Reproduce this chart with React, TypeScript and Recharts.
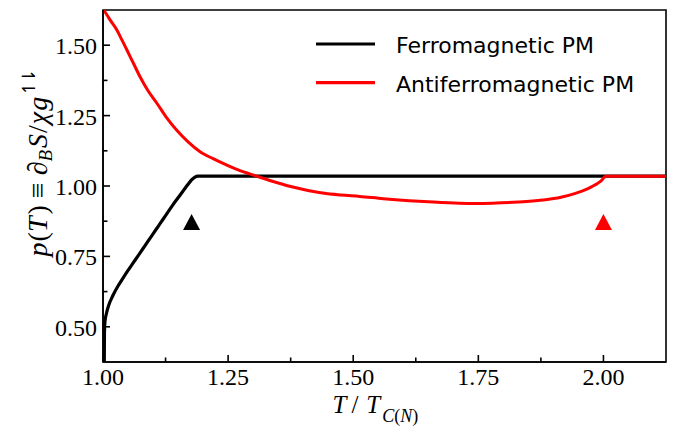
import React from 'react';
import { ComposedChart, Line, XAxis, YAxis, Scatter, ReferenceArea, Legend } from 'recharts';

// Ferromagnetic PM (black)
const ferroT = [1.0026, 1.0027, 1.0029, 1.004, 1.007, 1.0106, 1.02, 1.03, 1.04, 1.05, 1.06, 1.07, 1.08, 1.09, 1.1, 1.11, 1.12, 1.13, 1.14, 1.15, 1.16, 1.17, 1.177, 1.183, 1.19, 2.125];
const ferroP = [0.375, 0.42, 0.48, 0.52, 0.548, 0.572, 0.612, 0.645, 0.673, 0.7, 0.726, 0.752, 0.778, 0.804, 0.83, 0.856, 0.882, 0.908, 0.934, 0.958, 0.982, 1.006, 1.022, 1.031, 1.035, 1.035];

// Antiferromagnetic PM (red)
const afmT = [1.0, 1.007, 1.0145, 1.028, 1.038, 1.048, 1.061, 1.074, 1.09, 1.108, 1.127, 1.147, 1.17, 1.194, 1.22, 1.24, 1.27, 1.307, 1.34, 1.373, 1.405, 1.439, 1.475, 1.513, 1.56, 1.612, 1.66, 1.712, 1.745, 1.778, 1.83, 1.878, 1.915, 1.944, 1.962, 1.977, 1.988, 1.997, 2.001, 2.005, 2.125];
const afmP = [1.628, 1.61, 1.589, 1.553, 1.518, 1.482, 1.435, 1.388, 1.338, 1.293, 1.243, 1.199, 1.157, 1.122, 1.097, 1.08, 1.057, 1.035, 1.016, 0.999, 0.986, 0.975, 0.968, 0.963, 0.955, 0.948, 0.943, 0.939, 0.938, 0.939, 0.943, 0.95, 0.96, 0.974, 0.985, 0.998, 1.009, 1.021, 1.03, 1.035, 1.035];

// Triangle markers (transition points)
const ferroMarker = [{ T: 1.177, p: 0.872 }];
const afmMarker = [{ T: 2.0, p: 0.872 }];

const xTicks = [1.0, 1.125, 1.25, 1.375, 1.5, 1.625, 1.75, 1.875, 2.0];
const yTicks = [0.5, 0.625, 0.75, 0.875, 1.0, 1.125, 1.25, 1.375, 1.5];
const xDomain = [1.0, 2.125];
const yDomain = [0.375, 1.625];

const seriesNames = ['Ferromagnetic PM', 'Antiferromagnetic PM'];
const seriesColors = ['#000000', '#ff0000'];

const ferroData = ferroT.map((T, i) => ({ T, p: ferroP[i] }));
const afmData = afmT.map((T, i) => ({ T, p: afmP[i] }));

const isMajor = (v: number) => Math.abs(v * 4 - Math.round(v * 4)) < 1e-6;
const SERIF = '"Liberation Serif", "Times New Roman", serif';

const XTick = (props: any) => {
  const { x, y, payload } = props;
  const v = payload.value;
  const major = isMajor(v);
  return (
    <g>
      <line x1={x} x2={x} y1={y} y2={y - (major ? 7 : 4.5)} stroke="#000" strokeWidth={1.6} />
      {major && (
        <text x={x} y={y + 23} textAnchor="middle" fontFamily={SERIF} fontSize={24} fill="#000">
          {v.toFixed(2)}
        </text>
      )}
    </g>
  );
};

const YTick = (props: any) => {
  const { x, y, payload } = props;
  const v = payload.value;
  const major = isMajor(v);
  return (
    <g>
      <line x1={x} x2={x + (major ? 7 : 4.5)} y1={y} y2={y} stroke="#000" strokeWidth={1.6} />
      {major && (
        <text x={x - 6} y={y + 9} textAnchor="end" fontFamily={SERIF} fontSize={24} fill="#000">
          {v.toFixed(2)}
        </text>
      )}
    </g>
  );
};

const YLabel = (props: any) => {
  const vb = props.viewBox || { x: 3, y: 10, width: 100, height: 352 };
  const cx = vb.x + 44;
  const cy = vb.y + 154;
  return (
    <text transform={`translate(${cx},${cy}) rotate(-90)`} textAnchor="middle" fontFamily={SERIF} fontSize={28} fill="#000">
      <tspan fontStyle="italic">p</tspan>
      <tspan dx={1}>(</tspan>
      <tspan fontStyle="italic">T</tspan>
      <tspan dx={2}>)</tspan>
      <tspan dx={7}>≡</tspan>
      <tspan dx={7} fontStyle="italic">∂</tspan>
      <tspan fontSize={19} dy={5} fontStyle="italic">B</tspan>
      <tspan dy={-5} dx={2} fontStyle="italic">S</tspan>
      <tspan dx={1}>/</tspan>
      <tspan dx={1} fontStyle="italic">χ</tspan>
      <tspan dx={1} fontStyle="italic">g</tspan>
      <tspan fontSize={18} dy={-12} dx={1} letterSpacing={-3} fontFamily='"DejaVu Sans", sans-serif'>↿⇂</tspan>
    </text>
  );
};

const XLabel = (props: any) => {
  const vb = props.viewBox || { x: 103, y: 362, width: 563, height: 60 };
  const cx = vb.x + vb.width / 2;
  const by = vb.y + 51;
  return (
    <text x={cx - 52} y={by} textAnchor="start" fontFamily={SERIF} fontSize={25} fill="#000">
      <tspan fontStyle="italic">T</tspan>
      <tspan dx={5}>/</tspan>
      <tspan dx={8} fontStyle="italic">T</tspan>
      <tspan dx={2} fontSize={18} dy={9} fontStyle="italic">C</tspan>
      <tspan fontSize={18}>(</tspan>
      <tspan fontSize={18} fontStyle="italic">N</tspan>
      <tspan fontSize={18}>)</tspan>
    </text>
  );
};

const Triangle = (props: any) => {
  const { cx, cy, fill } = props;
  if (cx == null || cy == null) return null;
  return <polygon points={`${cx},${cy - 8} ${cx + 8.5},${cy + 8} ${cx - 8.5},${cy + 8}`} fill={fill} />;
};

const LegendContent = () => (
  <svg width={340} height={80} style={{ display: 'block' }}>
    {seriesNames.map((name, i) => (
      <g key={name}>
        <line x1={6} x2={65} y1={20 + i * 38.7} y2={20 + i * 38.7} stroke={seriesColors[i]} strokeWidth={3.2} />
        <text x={86} y={29 + i * 38.7} fontFamily='"DejaVu Sans", sans-serif' fontSize={22} fill="#000">
          {name}
        </text>
      </g>
    ))}
  </svg>
);

export default function App() {
  return (
    <div style={{ position: 'absolute', left: 0, top: 0, background: '#fff' }}>
      <ComposedChart width={681} height={429} margin={{ top: 10, right: 15, bottom: 7, left: 3 }}>
        <XAxis
          dataKey="T"
          type="number"
          domain={xDomain}
          ticks={xTicks}
          allowDataOverflow
          height={60}
          tickSize={0}
          tickMargin={0}
          tickLine={false}
          axisLine={{ stroke: '#000', strokeWidth: 1.6 }}
          tick={<XTick />}
          interval={0}
          label={<XLabel />}
        />
        <YAxis
          dataKey="p"
          type="number"
          domain={yDomain}
          ticks={yTicks}
          allowDataOverflow
          width={100}
          tickSize={0}
          tickMargin={0}
          tickLine={false}
          axisLine={{ stroke: '#000', strokeWidth: 1.6 }}
          tick={<YTick />}
          interval={0}
          label={<YLabel />}
        />
        <ReferenceArea x1={xDomain[0]} x2={xDomain[1]} y1={yDomain[0]} y2={yDomain[1]} fill="none" stroke="#000" strokeWidth={1.6} fillOpacity={0} />
        <Line data={ferroData} dataKey="p" name={seriesNames[0]} stroke={seriesColors[0]} strokeWidth={3.2} dot={false} type="monotoneX" isAnimationActive={false} />
        <Line data={afmData} dataKey="p" name={seriesNames[1]} stroke={seriesColors[1]} strokeWidth={3} dot={false} type="monotoneX" isAnimationActive={false} />
        <Scatter data={ferroMarker} dataKey="p" fill={seriesColors[0]} shape={<Triangle />} isAnimationActive={false} legendType="none" />
        <Scatter data={afmMarker} dataKey="p" fill={seriesColors[1]} shape={<Triangle />} isAnimationActive={false} legendType="none" />
        <Legend
          layout="vertical"
          align="center"
          verticalAlign="middle"
          content={<LegendContent />}
          wrapperStyle={{ position: 'absolute', left: 310, top: 24, width: 340, height: 80 }}
        />
      </ComposedChart>
    </div>
  );
}
